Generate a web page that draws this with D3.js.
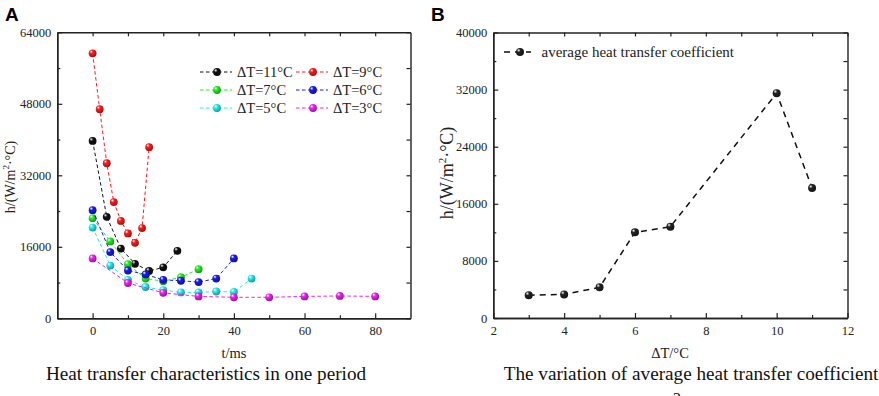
<!DOCTYPE html>
<html>
<head>
<meta charset="utf-8">
<script src="https://cdn.jsdelivr.net/npm/d3@7"></script>
<style>
  body { margin: 0; background: #fff; }
  svg { display: block; }
</style>
</head>
<body>
<div class="chart"></div>
<script>
// Panel A: h over one period, per temperature difference
const seriesNames = ["ΔT=11°C", "ΔT=9°C", "ΔT=7°C", "ΔT=6°C", "ΔT=5°C", "ΔT=3°C"];
const seriesColors = ["#111111", "#ff1a1a", "#22ee22", "#1a1aee", "#22eeee", "#ee22ee"];
const tBlack = [0, 4, 8, 12, 16, 20, 24];
const hBlack = [39700, 22700, 15600, 12200, 10600, 11400, 15100];
const tRed = [0, 2, 4, 6, 8, 10, 12, 14, 16];
const hRed = [59300, 46800, 34700, 26000, 21800, 19000, 16900, 20200, 38300];
const tGreen = [0, 5, 10, 15, 20, 25, 30];
const hGreen = [22400, 17200, 12100, 8900, 8300, 9200, 11000];
const tBlue = [0, 5, 10, 15, 20, 25, 30, 35, 40];
const hBlue = [24200, 14800, 10700, 9800, 8600, 8400, 8100, 8900, 13400];
const tCyan = [0, 5, 10, 15, 20, 25, 30, 35, 40, 45];
const hCyan = [20300, 11800, 8600, 7000, 6300, 5800, 5800, 6000, 5900, 8900];
const tMagenta = [0, 10, 20, 30, 40, 50, 60, 70, 80];
const hMagenta = [13400, 7900, 5700, 4900, 4700, 4700, 4900, 5000, 4900];
const xTicksA = [0, 20, 40, 60, 80];
const yTicksA = [0, 16000, 32000, 48000, 64000];

// Panel B: average coefficient vs ΔT
const deltaT = [3, 4, 5, 6, 7, 10, 11];
const hAverage = [3200, 3300, 4300, 12000, 12800, 31500, 18200];
const xTicksB = [2, 4, 6, 8, 10, 12];
const yTicksB = [0, 8000, 16000, 24000, 32000, 40000];

const serif = '"Liberation Serif", "Times New Roman", serif';
const tSets = [tBlack, tRed, tGreen, tBlue, tCyan, tMagenta];
const hSets = [hBlack, hRed, hGreen, hBlue, hCyan, hMagenta];

const svg = d3.select("div.chart").append("svg")
  .attr("width", 879)
  .attr("height", 396);

// sphere look for the markers
const defs = svg.append("defs");
function sphere(id, color) {
  const g = defs.append("radialGradient")
    .attr("id", id)
    .attr("cx", "38%").attr("cy", "35%").attr("r", "65%")
    .attr("fx", "32%").attr("fy", "28%");
  g.append("stop").attr("offset", "0%").attr("stop-color", "#ffffff");
  g.append("stop").attr("offset", "35%").attr("stop-color", color);
  g.append("stop").attr("offset", "100%").attr("stop-color", d3.color(color).darker(1.2));
}
seriesColors.forEach((c, i) => sphere("ball" + i, c));
sphere("ballB", "#222222");

// frame with inward ticks on all four sides
function frame(g, x, y, xMajor, yMajor, xMinor, yMinor) {
  const [x0, x1] = x.range();
  const [y0, y1] = y.range();
  const fmt = d3.format("d");
  g.append("g").attr("transform", `translate(0,${y0})`)
    .call(d3.axisBottom(x).tickValues(xMinor).tickSize(-3).tickFormat("").tickSizeOuter(0));
  g.append("g").attr("transform", `translate(0,${y0})`)
    .call(d3.axisBottom(x).tickValues(xMajor).tickSize(-5).tickPadding(8).tickFormat(fmt).tickSizeOuter(0));
  g.append("g").attr("transform", `translate(0,${y1})`)
    .call(d3.axisTop(x).tickValues(xMinor.concat(xMajor)).tickSize(-4).tickFormat("").tickSizeOuter(0));
  g.append("g").attr("transform", `translate(${x0},0)`)
    .call(d3.axisLeft(y).tickValues(yMinor).tickSize(-3).tickFormat("").tickSizeOuter(0));
  g.append("g").attr("transform", `translate(${x0},0)`)
    .call(d3.axisLeft(y).tickValues(yMajor).tickSize(-5).tickPadding(6).tickFormat(fmt).tickSizeOuter(0));
  g.append("g").attr("transform", `translate(${x1},0)`)
    .call(d3.axisRight(y).tickValues(yMinor.concat(yMajor)).tickSize(-4).tickFormat("").tickSizeOuter(0));
  g.selectAll(".domain").attr("stroke", "#222").attr("stroke-width", 1.4);
  g.selectAll(".tick line").attr("stroke", "#222").attr("stroke-width", 1.2);
  g.selectAll(".tick text")
    .attr("fill", "#222")
    .style("font-family", serif)
    .style("font-size", "12.5px");
}

// ---------- Panel A ----------
const xA = d3.scaleLinear().domain([-10, 90]).range([57.3, 410.5]);
const yA = d3.scaleLinear().domain([0, 64000]).range([318.3, 32.3]);
const gA = svg.append("g");
frame(gA, xA, yA, xTicksA, yTicksA, [10, 30, 50, 70], [8000, 24000, 40000, 56000]);

const lineA = d3.line().x(d => xA(d[0])).y(d => yA(d[1]));
tSets.forEach((ts, i) => {
  const pts = ts.map((t, j) => [t, hSets[i][j]]);
  gA.append("path")
    .attr("d", lineA(pts))
    .attr("fill", "none")
    .attr("stroke", seriesColors[i])
    .attr("stroke-width", 1)
    .attr("stroke-dasharray", "3.5 2.5");
  gA.selectAll(null).data(pts).enter().append("circle")
    .attr("cx", d => xA(d[0]))
    .attr("cy", d => yA(d[1]))
    .attr("r", 3.9)
    .attr("fill", `url(#ball${i})`);
});

// legend A
seriesNames.forEach((name, i) => {
  const lx = i % 2 === 0 ? 200 : 296;
  const ly = 72 + Math.floor(i / 2) * 18;
  gA.append("line")
    .attr("x1", lx).attr("x2", lx + 32)
    .attr("y1", ly).attr("y2", ly)
    .attr("stroke", seriesColors[i])
    .attr("stroke-width", 1)
    .attr("stroke-dasharray", "3.5 2.5");
  gA.append("circle").attr("cx", lx + 17).attr("cy", ly).attr("r", 3.9).attr("fill", `url(#ball${i})`);
  gA.append("text")
    .attr("x", lx + 37).attr("y", ly + 5)
    .style("font-family", serif).style("font-size", "14.5px").style("fill", "#222")
    .text(name);
});

gA.append("text")
  .attr("x", 234).attr("y", 358)
  .attr("text-anchor", "middle")
  .style("font-family", serif).style("font-size", "14.5px").style("fill", "#222")
  .text("t/ms");

gA.append("text")
  .attr("transform", "translate(15,177) rotate(-90)")
  .attr("text-anchor", "middle")
  .style("font-family", serif).style("font-size", "14px").style("fill", "#222")
  .html('h/(W/m<tspan dy="-6" font-size="9px">2</tspan><tspan dy="6">·°C)</tspan>');

gA.append("text")
  .attr("x", 206).attr("y", 379.5)
  .attr("text-anchor", "middle")
  .style("font-family", serif).style("font-size", "19.2px").style("fill", "#111")
  .text("Heat transfer characteristics in one period");

svg.append("text")
  .attr("x", 5).attr("y", 21)
  .style("font-family", '"Liberation Sans", Arial, sans-serif')
  .style("font-weight", "bold").style("font-size", "19px")
  .text("A");

// ---------- Panel B ----------
const xB = d3.scaleLinear().domain([2, 12]).range([493.3, 847.5]);
const yB = d3.scaleLinear().domain([0, 40000]).range([318, 32.5]);
const gB = svg.append("g");
frame(gB, xB, yB, xTicksB, yTicksB, [3, 5, 7, 9, 11], [4000, 12000, 20000, 28000, 36000]);

const ptsB = deltaT.map((t, j) => [t, hAverage[j]]);
gB.append("path")
  .attr("d", d3.line().x(d => xB(d[0])).y(d => yB(d[1]))(ptsB))
  .attr("fill", "none")
  .attr("stroke", "#111")
  .attr("stroke-width", 1.5)
  .attr("stroke-dasharray", "6 5");
gB.selectAll(null).data(ptsB).enter().append("circle")
  .attr("cx", d => xB(d[0]))
  .attr("cy", d => yB(d[1]))
  .attr("r", 4)
  .attr("fill", "url(#ballB)");

// legend B
gB.append("line")
  .attr("x1", 504).attr("x2", 531).attr("y1", 52).attr("y2", 52)
  .attr("stroke", "#111").attr("stroke-width", 1.5).attr("stroke-dasharray", "6 5");
gB.append("circle").attr("cx", 520).attr("cy", 52).attr("r", 4).attr("fill", "url(#ballB)");
gB.append("text")
  .attr("x", 541.5).attr("y", 57)
  .style("font-family", serif).style("font-size", "15px").style("fill", "#222")
  .text("average heat transfer coefficient");

gB.append("text")
  .attr("x", 670).attr("y", 358)
  .attr("text-anchor", "middle")
  .style("font-family", serif).style("font-size", "14.5px").style("fill", "#222")
  .text("ΔT/°C");

gB.append("text")
  .attr("transform", "translate(453,173) rotate(-90)")
  .attr("text-anchor", "middle")
  .style("font-family", serif).style("font-size", "18px").style("fill", "#222")
  .html('h/(W/m<tspan dy="-7" font-size="11px">2</tspan><tspan dy="7">·°C)</tspan>');

gB.append("text")
  .attr("x", 691).attr("y", 380)
  .attr("text-anchor", "middle")
  .style("font-family", serif).style("font-size", "19.2px").style("fill", "#111")
  .text("The variation of average heat transfer coefficient");

// cut-off superscript peeking in at the bottom edge
gB.append("text")
  .attr("x", 677).attr("y", 404)
  .attr("text-anchor", "middle")
  .style("font-family", serif).style("font-size", "16px").style("fill", "#111")
  .text("2");

svg.append("text")
  .attr("x", 431).attr("y", 21)
  .style("font-family", '"Liberation Sans", Arial, sans-serif')
  .style("font-weight", "bold").style("font-size", "19px")
  .text("B");
</script>
</body>
</html>
